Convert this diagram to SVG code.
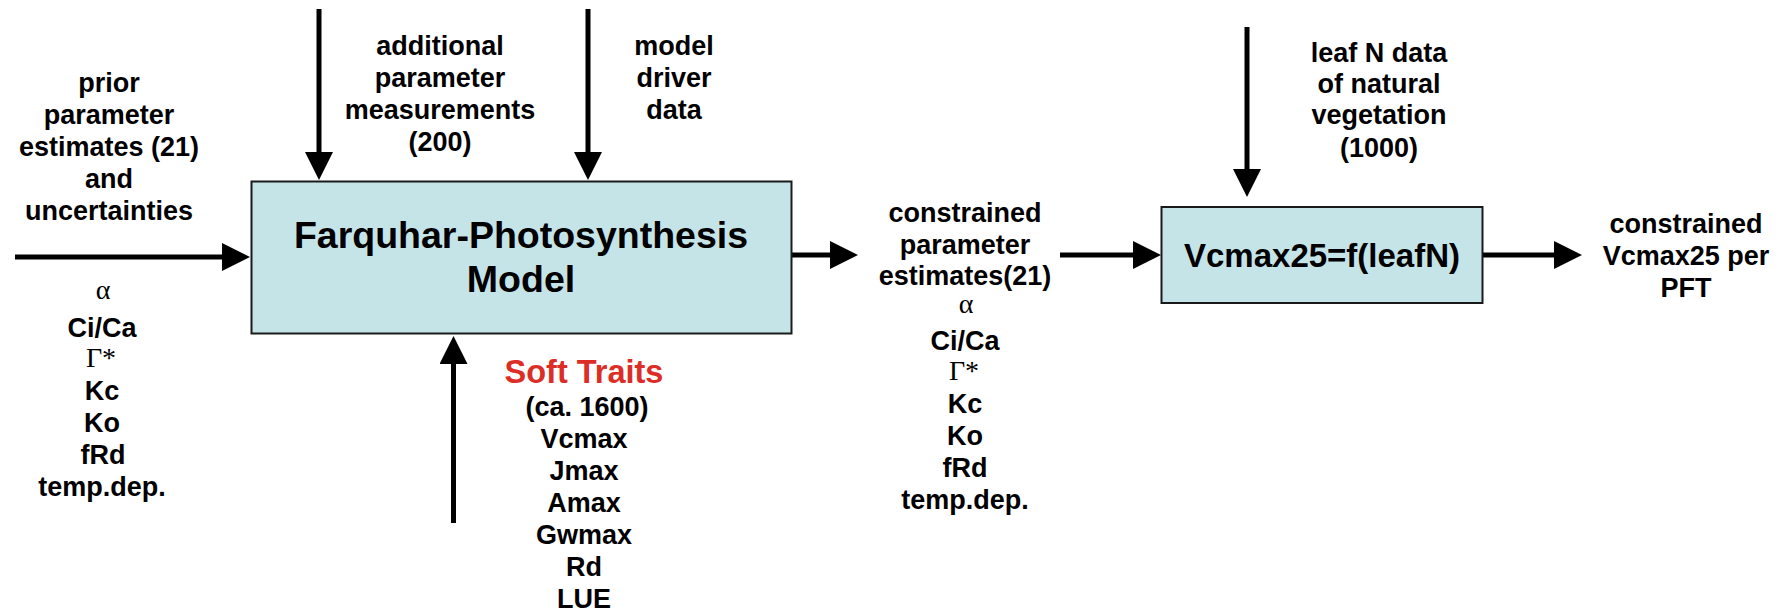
<svg xmlns="http://www.w3.org/2000/svg" width="1790" height="611" viewBox="0 0 1790 611">
<style>
.t{font-family:"Liberation Sans",Arial,sans-serif;font-weight:bold;font-size:27px;fill:#000;text-anchor:middle}
.g{font-family:"Liberation Serif","Times New Roman",serif;font-weight:normal;font-size:28px;fill:#000;text-anchor:middle}
.big{font-size:37.5px}
.mid{font-size:33px}
.red{fill:#DC2D27;font-size:32.5px}
.box{fill:#C5E4E8;stroke:#1a1a1a;stroke-width:2}
.c{stroke:#000;stroke-width:5;fill:none;marker-end:url(#ah)}
</style>
<defs>
<marker id="ah" markerUnits="userSpaceOnUse" markerWidth="30" markerHeight="30" refX="1" refY="14" orient="auto">
<path d="M0,0 L28,14 L0,28 z" fill="#000"/>
</marker>
</defs>
<g id="connectors">
<line class="c" x1="15" y1="257" x2="223" y2="257"/>
<line class="c" x1="319" y1="9" x2="319" y2="153"/>
<line class="c" x1="588" y1="9" x2="588" y2="153"/>
<line class="c" x1="453.5" y1="523" x2="453.5" y2="363"/>
<line class="c" x1="792" y1="255" x2="831" y2="255"/>
<line class="c" x1="1060" y1="255" x2="1134" y2="255"/>
<line class="c" x1="1247" y1="27" x2="1247" y2="170"/>
<line class="c" x1="1483" y1="255" x2="1555" y2="255"/>
</g>
<g id="farquhar-model">
<rect class="box" x="251.5" y="181.5" width="540" height="152"/>
<text class="t big" x="521" y="248">Farquhar-Photosynthesis</text>
<text class="t big" x="521" y="292">Model</text>
</g>
<g id="vcmax-model">
<rect class="box" x="1161.5" y="207" width="321" height="96"/>
<text class="t mid" x="1322" y="267">Vcmax25=f(leafN)</text>
</g>
<g id="prior-estimates">
<text class="t" x="109" y="92">prior</text>
<text class="t" x="109" y="124">parameter</text>
<text class="t" x="109" y="156">estimates (21)</text>
<text class="t" x="109" y="188">and</text>
<text class="t" x="109" y="220">uncertainties</text>
<text class="g" x="103" y="299">α</text>
<text class="t" x="102" y="337">Ci/Ca</text>
<text class="g" x="101" y="367">Γ*</text>
<text class="t" x="102" y="400">Kc</text>
<text class="t" x="102" y="432">Ko</text>
<text class="t" x="103" y="464">fRd</text>
<text class="t" x="102" y="496">temp.dep.</text>
</g>
<g id="additional-measurements">
<text class="t" x="440" y="55">additional</text>
<text class="t" x="440" y="87">parameter</text>
<text class="t" x="440" y="119">measurements</text>
<text class="t" x="440" y="151">(200)</text>
</g>
<g id="model-driver-data">
<text class="t" x="674" y="55">model</text>
<text class="t" x="674" y="87">driver</text>
<text class="t" x="674" y="119">data</text>
</g>
<g id="soft-traits">
<text class="t red" x="584" y="383">Soft Traits</text>
<text class="t" x="587" y="416">(ca. 1600)</text>
<text class="t" x="584" y="448">Vcmax</text>
<text class="t" x="584" y="480">Jmax</text>
<text class="t" x="584" y="512">Amax</text>
<text class="t" x="584" y="544">Gwmax</text>
<text class="t" x="584" y="576">Rd</text>
<text class="t" x="584" y="608">LUE</text>
</g>
<g id="constrained-estimates">
<text class="t" x="965" y="222">constrained</text>
<text class="t" x="965" y="254">parameter</text>
<text class="t" x="965" y="285">estimates(21)</text>
<text class="g" x="966" y="313">α</text>
<text class="t" x="965" y="350">Ci/Ca</text>
<text class="g" x="964" y="380">Γ*</text>
<text class="t" x="965" y="413">Kc</text>
<text class="t" x="965" y="445">Ko</text>
<text class="t" x="965" y="477">fRd</text>
<text class="t" x="965" y="509">temp.dep.</text>
</g>
<g id="leaf-n-data">
<text class="t" x="1379" y="62">leaf N data</text>
<text class="t" x="1379" y="93">of natural</text>
<text class="t" x="1379" y="124">vegetation</text>
<text class="t" x="1379" y="157">(1000)</text>
</g>
<g id="constrained-vcmax">
<text class="t" x="1686" y="233">constrained</text>
<text class="t" x="1686" y="265">Vcmax25 per</text>
<text class="t" x="1686" y="297">PFT</text>
</g>
</svg>
